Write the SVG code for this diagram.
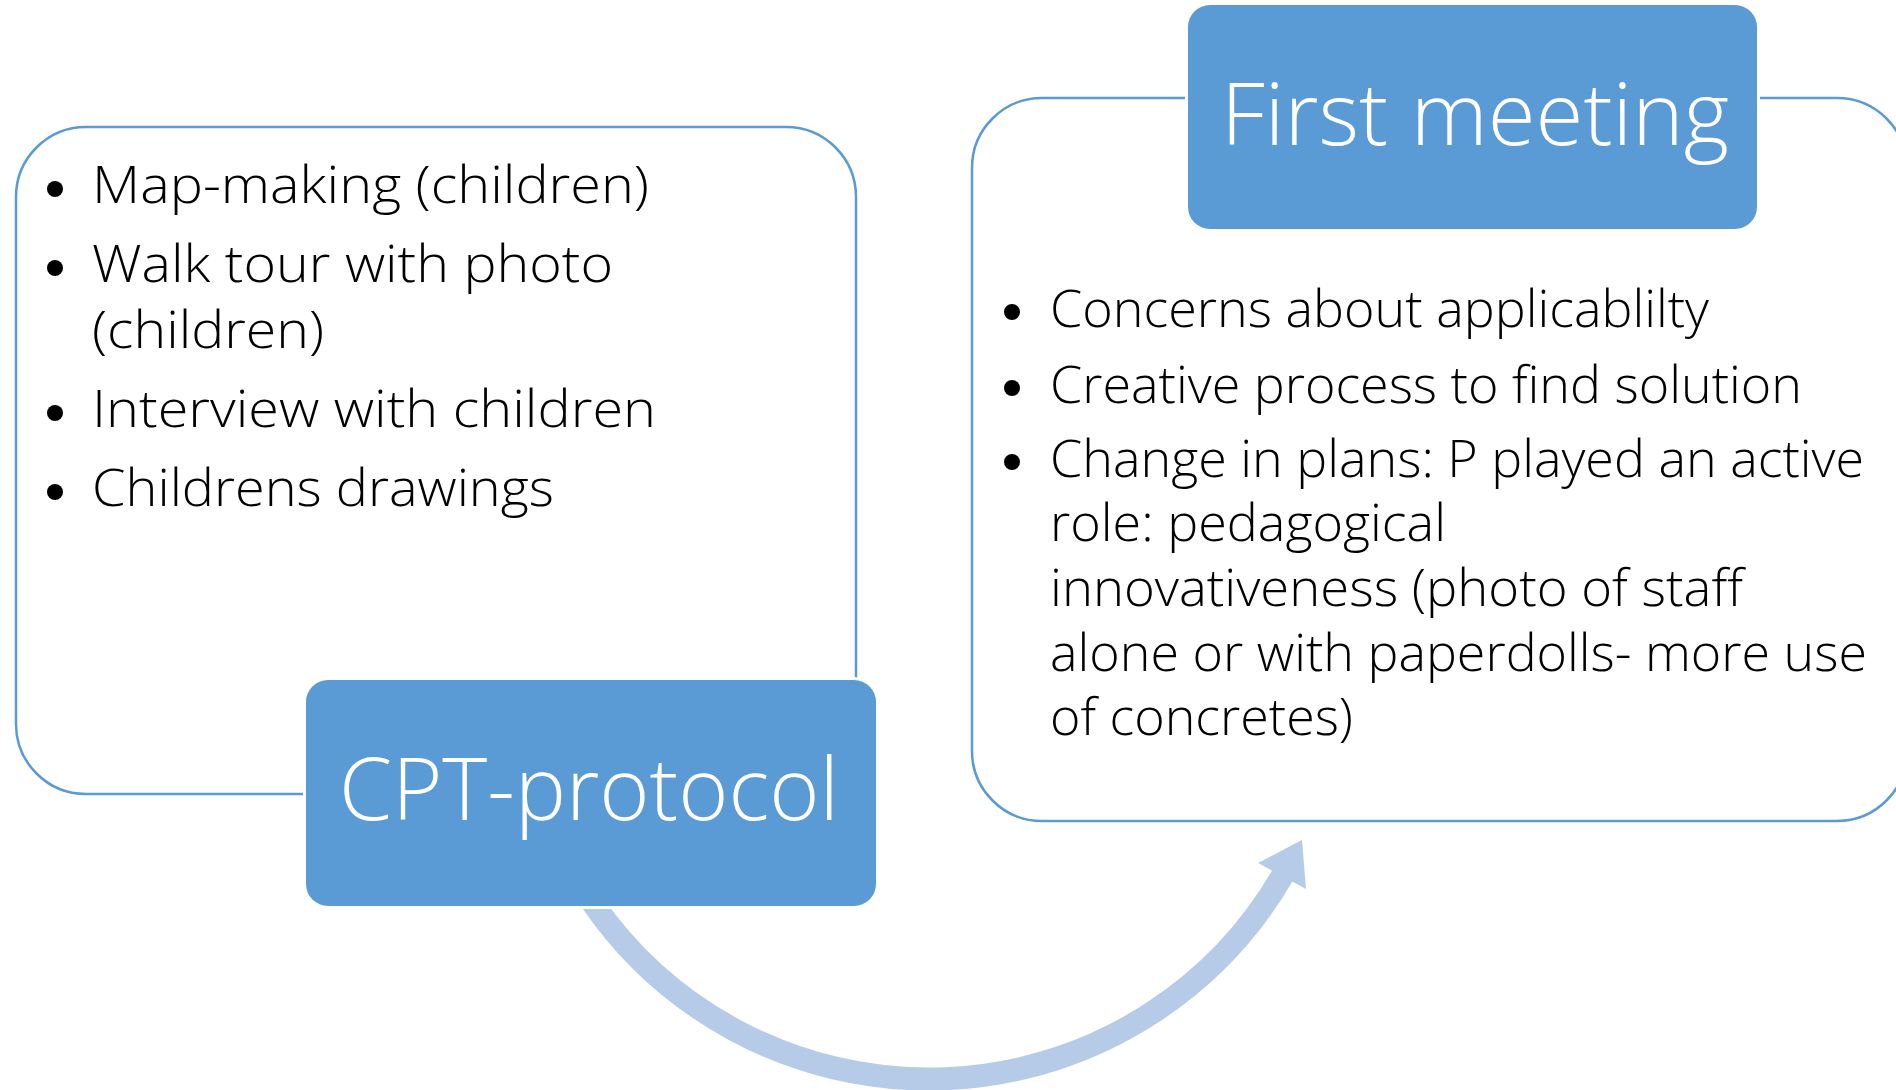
<svg xmlns="http://www.w3.org/2000/svg" width="1896" height="1090" viewBox="0 0 1896 1090">
<style>
.outline{fill:#FFFFFF;stroke:#5B9BD5;stroke-width:2.5}
.head{fill:#5B9BD5;stroke:#FFFFFF;stroke-width:6;paint-order:stroke}
.body{font-family:"Open Sans","Liberation Sans",sans-serif;font-weight:300;font-size:52px;fill:#000000}
.title{font-family:"Open Sans","Liberation Sans",sans-serif;font-weight:300;font-size:86px;fill:#FFFFFF}
.bul{fill:#000000}
.conn{fill:none;stroke:#B6CBE8;stroke-width:23}
.arrowhead{fill:#B6CBE8}
</style>
<rect width="1896" height="1090" fill="#FFFFFF"/>
<g id="connectors">
<path class="conn" d="M 592 902 A 409 409 0 0 0 1284 873"/>
<polygon class="arrowhead" points="1302,840 1258,863 1306,889"/>
</g>
<g id="node-left-list">
<rect class="outline" x="16" y="127" width="840" height="667" rx="70" ry="70"/>
<circle class="bul" cx="55" cy="189" r="8"/>
<text class="body" x="92" y="203" textLength="557" lengthAdjust="spacingAndGlyphs">Map-making (children)</text>
<circle class="bul" cx="55" cy="268" r="8"/>
<text class="body" x="92" y="282" textLength="521" lengthAdjust="spacingAndGlyphs">Walk tour with photo</text>
<text class="body" x="92" y="348" textLength="232" lengthAdjust="spacingAndGlyphs">(children)</text>
<circle class="bul" cx="55" cy="413" r="8"/>
<text class="body" x="92" y="427" textLength="564" lengthAdjust="spacingAndGlyphs">Interview with children</text>
<circle class="bul" cx="55" cy="492" r="8"/>
<text class="body" x="92" y="506" textLength="462" lengthAdjust="spacingAndGlyphs">Childrens drawings</text>
</g>
<g id="node-cpt-protocol">
<rect class="head" x="306" y="680" width="570" height="226" rx="22" ry="22"/>
<text class="title" x="339" y="820" textLength="500" lengthAdjust="spacingAndGlyphs">CPT-protocol</text>
</g>
<g id="node-right-list">
<rect class="outline" x="972" y="98" width="935" height="723" rx="70" ry="70"/>
<circle class="bul" cx="1012" cy="312" r="8"/>
<text class="body" x="1050" y="327" textLength="659" lengthAdjust="spacingAndGlyphs">Concerns about applicablilty</text>
<circle class="bul" cx="1012" cy="388" r="8"/>
<text class="body" x="1050" y="403" textLength="752" lengthAdjust="spacingAndGlyphs">Creative process to find solution</text>
<circle class="bul" cx="1012" cy="462" r="8"/>
<text class="body" x="1050" y="477" textLength="814" lengthAdjust="spacingAndGlyphs">Change in plans: P played an active</text>
<text class="body" x="1050" y="541" textLength="396" lengthAdjust="spacingAndGlyphs">role: pedagogical</text>
<text class="body" x="1050" y="606" textLength="693" lengthAdjust="spacingAndGlyphs">innovativeness (photo of staff</text>
<text class="body" x="1050" y="671" textLength="817" lengthAdjust="spacingAndGlyphs">alone or with paperdolls- more use</text>
<text class="body" x="1050" y="735" textLength="303" lengthAdjust="spacingAndGlyphs">of concretes)</text>
</g>
<g id="node-first-meeting">
<rect class="head" x="1188" y="5" width="569" height="224" rx="22" ry="22"/>
<text class="title" x="1221" y="145" textLength="508" lengthAdjust="spacingAndGlyphs">First meeting</text>
</g>
</svg>
